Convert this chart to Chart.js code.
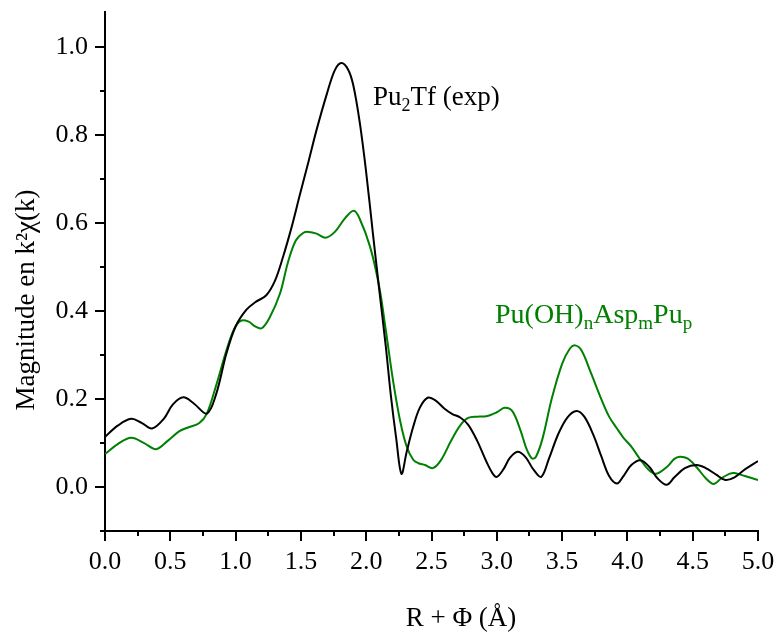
<!DOCTYPE html>
<html>
<head>
<meta charset="utf-8">
<script src="https://cdn.jsdelivr.net/npm/chart.js@4/dist/chart.umd.min.js"></script>
<style>
	html, body { margin: 0; padding: 0; background: #fff; }
	#wrap { width: 777px; height: 632px; position: relative; }
</style>
</head>
<body>
<div id="wrap"><canvas id="ftChart"></canvas></div>
<script>
// R + phi positions (Angstrom) and FT magnitudes
const expR = [0.00, 0.10, 0.20, 0.28, 0.36, 0.45, 0.52, 0.60, 0.68, 0.78, 0.85, 0.93, 1.00, 1.08, 1.15, 1.235, 1.30, 1.36, 1.43, 1.49, 1.56, 1.62, 1.70, 1.76, 1.81, 1.86, 1.90, 1.95, 2.00, 2.05, 2.10, 2.15, 2.19, 2.23, 2.27, 2.31, 2.36, 2.41, 2.47, 2.53, 2.60, 2.66, 2.72, 2.78, 2.85, 2.92, 2.97, 3.00, 3.05, 3.10, 3.16, 3.22, 3.28, 3.34, 3.40, 3.47, 3.54, 3.61, 3.67, 3.74, 3.80, 3.86, 3.92, 3.97, 4.03, 4.10, 4.17, 4.23, 4.30, 4.36, 4.44, 4.53, 4.60, 4.68, 4.75, 4.82, 4.90, 5.00];
const expMag = [0.114, 0.140, 0.155, 0.146, 0.133, 0.155, 0.188, 0.204, 0.190, 0.167, 0.210, 0.304, 0.365, 0.402, 0.420, 0.436, 0.468, 0.520, 0.592, 0.662, 0.742, 0.812, 0.895, 0.948, 0.964, 0.950, 0.915, 0.830, 0.715, 0.580, 0.448, 0.320, 0.205, 0.110, 0.030, 0.080, 0.137, 0.180, 0.203, 0.197, 0.178, 0.166, 0.158, 0.142, 0.105, 0.058, 0.030, 0.023, 0.040, 0.066, 0.080, 0.068, 0.040, 0.023, 0.065, 0.120, 0.158, 0.173, 0.160, 0.118, 0.070, 0.025, 0.008, 0.025, 0.050, 0.061, 0.045, 0.020, 0.005, 0.022, 0.043, 0.050, 0.043, 0.028, 0.016, 0.022, 0.040, 0.059];

const fitR = [0.00, 0.10, 0.20, 0.30, 0.39, 0.48, 0.57, 0.64, 0.72, 0.78, 0.85, 0.93, 0.99, 1.04, 1.10, 1.15, 1.20, 1.26, 1.34, 1.40, 1.46, 1.52, 1.56, 1.62, 1.69, 1.76, 1.84, 1.905, 1.95, 2.03, 2.10, 2.15, 2.205, 2.26, 2.31, 2.36, 2.40, 2.45, 2.51, 2.57, 2.65, 2.72, 2.78, 2.85, 2.92, 3.00, 3.06, 3.12, 3.18, 3.23, 3.27, 3.30, 3.35, 3.42, 3.50, 3.56, 3.60, 3.65, 3.72, 3.80, 3.86, 3.92, 3.97, 4.03, 4.10, 4.16, 4.22, 4.30, 4.36, 4.40, 4.46, 4.53, 4.60, 4.66, 4.72, 4.78, 4.82, 4.90, 5.00];
const fitMag = [0.075, 0.098, 0.112, 0.100, 0.086, 0.105, 0.127, 0.136, 0.145, 0.167, 0.230, 0.311, 0.360, 0.378, 0.376, 0.365, 0.361, 0.385, 0.440, 0.510, 0.560, 0.578, 0.580, 0.576, 0.567, 0.580, 0.612, 0.628, 0.610, 0.546, 0.455, 0.357, 0.243, 0.150, 0.092, 0.062, 0.054, 0.050, 0.043, 0.060, 0.105, 0.140, 0.157, 0.160, 0.161, 0.170, 0.180, 0.172, 0.130, 0.085, 0.065, 0.069, 0.110, 0.200, 0.280, 0.315, 0.322, 0.310, 0.260, 0.200, 0.160, 0.133, 0.112, 0.092, 0.062, 0.040, 0.030, 0.045, 0.064, 0.069, 0.065, 0.045, 0.020, 0.007, 0.020, 0.030, 0.032, 0.025, 0.016];

const FONT = "'Liberation Serif', 'Times New Roman', serif";
const GREEN = "#008000";

function toPoints(xs, ys) {
	return xs.map((x, i) => ({ x: x, y: ys[i] }));
}

// draws outward tick marks (long = labelled, short = unlabelled)
const tickMarks = {
	id: "tickMarks",
	afterDraw(chart) {
		const ctx = chart.ctx;
		const xs = chart.scales.x;
		const ys = chart.scales.y;
		ctx.save();
		ctx.strokeStyle = "#000";
		ctx.lineWidth = 2;
		ys.ticks.forEach((t) => {
			const k = Math.round(t.value * 10);
			const py = Math.round(ys.getPixelForValue(t.value));
			const len = (k % 2 === 0) ? 10 : 5;
			ctx.beginPath();
			ctx.moveTo(xs.left - len, py);
			ctx.lineTo(xs.left, py);
			ctx.stroke();
		});
		xs.ticks.forEach((t) => {
			const k = Math.round(t.value * 4);
			const px = Math.round(xs.getPixelForValue(t.value));
			const len = (k % 2 === 0) ? 10 : 5;
			ctx.beginPath();
			ctx.moveTo(px, ys.bottom);
			ctx.lineTo(px, ys.bottom + len);
			ctx.stroke();
		});
		ctx.restore();
	}
};

// axis titles and curve labels, with subscripts
function drawRich(ctx, parts, x, y, size, color) {
	ctx.fillStyle = color;
	ctx.textAlign = "left";
	ctx.textBaseline = "alphabetic";
	let cx = x;
	parts.forEach((p) => {
		const sub = p[1] === "sub";
		const fs = sub ? Math.round(size * 0.68) : size;
		ctx.font = fs + "px " + FONT;
		ctx.fillText(p[0], cx, sub ? y + size * 0.22 : y);
		cx += ctx.measureText(p[0]).width;
	});
}

const labels = {
	id: "labels",
	afterDraw(chart) {
		const ctx = chart.ctx;
		ctx.save();
		ctx.font = "27px " + FONT;
		ctx.fillStyle = "#000";
		ctx.textAlign = "center";
		ctx.textBaseline = "alphabetic";
		ctx.fillText("R + \u03A6 (\u00C5)", 461, 626);

		ctx.save();
		ctx.translate(34, 300);
		ctx.rotate(-Math.PI / 2);
		ctx.fillText("Magnitude en k\u00B2\u03C7(k)", 0, 0);
		ctx.restore();

		drawRich(ctx, [["Pu"], ["2", "sub"], ["Tf (exp)"]], 373, 105, 27, "#000");
		drawRich(ctx, [["Pu(OH)"], ["n", "sub"], ["Asp"], ["m", "sub"], ["Pu"], ["p", "sub"]], 495, 323, 28, GREEN);
		ctx.restore();
	}
};

new Chart(document.getElementById("ftChart"), {
	type: "line",
	data: {
		datasets: [
			{
				label: "Pu2Tf (exp)",
				data: toPoints(expR, expMag),
				borderColor: "#000",
				borderWidth: 2,
				pointRadius: 0,
				tension: 0.35,
				fill: false
			},
			{
				label: "Pu(OH)nAspmPup",
				data: toPoints(fitR, fitMag),
				borderColor: GREEN,
				borderWidth: 2,
				pointRadius: 0,
				tension: 0.35,
				fill: false
			}
		]
	},
	options: {
		responsive: true,
		maintainAspectRatio: false,
		animation: false,
		layout: { padding: { left: 0, right: 19, top: 12, bottom: 0 } },
		plugins: {
			legend: { display: false },
			tooltip: { enabled: false }
		},
		scales: {
			x: {
				type: "linear",
				min: 0,
				max: 5,
				afterFit(scale) {
					scale.height = 101;
					scale.paddingLeft = 0;
					scale.paddingRight = 0;
				},
				grid: { display: false, drawTicks: false },
				border: { display: true, color: "#000", width: 2 },
				ticks: {
					stepSize: 0.25,
					includeBounds: false,
					autoSkip: false,
					maxRotation: 0,
					padding: 16,
					color: "#000",
					font: { family: FONT, size: 26 },
					callback: (v) => (Math.round(v * 4) % 2 === 0 ? v.toFixed(1) : "")
				}
			},
			y: {
				type: "linear",
				min: -0.1,
				max: 1.08,
				afterFit(scale) {
					scale.width = 105;
					scale.paddingTop = 0;
					scale.paddingBottom = 0;
				},
				grid: { display: false, drawTicks: false },
				border: { display: true, color: "#000", width: 2 },
				ticks: {
					stepSize: 0.1,
					includeBounds: false,
					autoSkip: false,
					padding: 17,
					color: "#000",
					font: { family: FONT, size: 26 },
					callback: (v) => {
						const k = Math.round(v * 10);
						return (k >= 0 && k % 2 === 0) ? (k / 10).toFixed(1) : "";
					}
				}
			}
		}
	},
	plugins: [tickMarks, labels]
});
</script>
</body>
</html>
